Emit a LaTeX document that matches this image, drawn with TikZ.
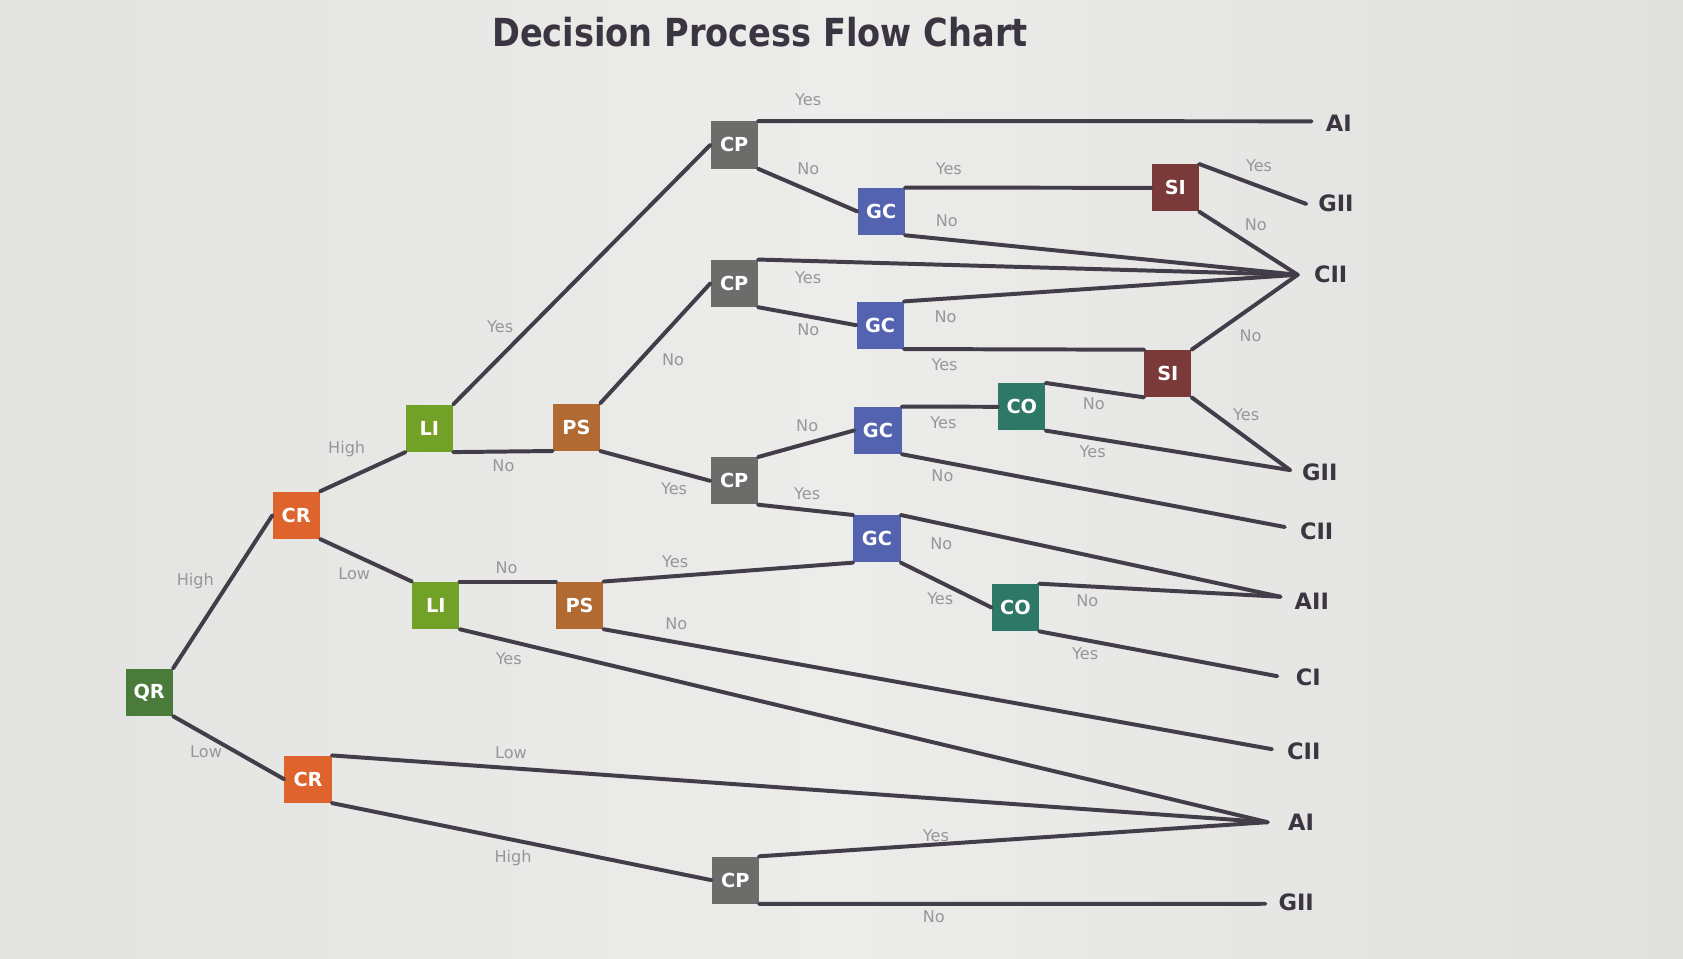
\documentclass[tikz,border=0pt]{standalone}
\usepackage{fontspec}
\usepackage{graphicx}
\setmainfont{DejaVu Sans}
\definecolor{bgA}{HTML}{E3E3E1}
\definecolor{bgB}{HTML}{ECECEA}
\definecolor{bgC}{HTML}{E0E0DE}
\definecolor{ink}{HTML}{3A3540}
\definecolor{edge}{HTML}{433D4A}
\definecolor{lbl}{HTML}{979797}
\definecolor{cQR}{HTML}{4B7B3B}
\definecolor{cCR}{HTML}{DF632C}
\definecolor{cLI}{HTML}{72A128}
\definecolor{cPS}{HTML}{B06A32}
\definecolor{cCP}{HTML}{6C6C6A}
\definecolor{cGC}{HTML}{5463B0}
\definecolor{cSI}{HTML}{7B3A3A}
\definecolor{cCO}{HTML}{2E7868}
\begin{document}
\begin{tikzpicture}[x=1pt,y=-1pt,
  box/.style={minimum width=44pt,minimum height=44pt,inner sep=0pt,text=white,
    font=\bfseries\fontsize{18}{18}\selectfont},
  outc/.style={anchor=west,inner sep=0pt,text=ink,font=\bfseries\fontsize{21}{21}\selectfont},
  elbl/.style={inner sep=0pt,text=lbl,font=\fontsize{15}{15}\selectfont},
  conn/.style={draw=edge,line width=3.7pt,line cap=round}]
\shade[left color=bgA,right color=bgC,middle color=bgB] (0,0) rectangle (1568,893);
\useasboundingbox (0,0) rectangle (1568,893);
\node[text=ink,font=\bfseries\fontsize{36}{36}\selectfont] (title) at (708,30) {\scalebox{0.87}[1]{Decision Process Flow Chart}};
% boxes
\node[box,fill=cQR] (qr) at (139,645) {QR};
\node[box,fill=cCR] (crA) at (276,480) {CR};
\node[box,fill=cCR] (crB) at (287,726) {CR};
\node[box,fill=cLI] (liA) at (400,399) {LI};
\node[box,fill=cLI] (liB) at (406,564) {LI};
\node[box,fill=cPS] (psA) at (537,398) {PS};
\node[box,fill=cPS] (psB) at (540,564) {PS};
\node[box,fill=cCP] (cpA) at (684,135) {CP};
\node[box,fill=cCP] (cpB) at (684,264) {CP};
\node[box,fill=cCP] (cpC) at (684,448) {CP};
\node[box,fill=cCP] (cpD) at (685,820) {CP};
\node[box,fill=cGC] (gcA) at (821,197) {GC};
\node[box,fill=cGC] (gcB) at (820,303) {GC};
\node[box,fill=cGC] (gcC) at (818,401) {GC};
\node[box,fill=cGC] (gcD) at (817,502) {GC};
\node[box,fill=cSI] (siA) at (1095,175) {SI};
\node[box,fill=cSI] (siB) at (1088,348) {SI};
\node[box,fill=cCO] (coA) at (952,379) {CO};
\node[box,fill=cCO] (coB) at (946,566) {CO};
% outcome end points and texts
\coordinate (eAIa) at (1222,113);
\coordinate (eGIIa) at (1217,190);
\coordinate (eCIIa) at (1209,256);
\coordinate (eGIIb) at (1202,438);
\coordinate (eCIIb) at (1197,491);
\coordinate (eAIIa) at (1193,556);
\coordinate (eCIa) at (1190,630);
\coordinate (eCIIc) at (1185,698);
\coordinate (eAIb) at (1181,766);
\coordinate (eGIIc) at (1179,842);
\node[outc] (tAIa) at (1235,115) {AI};
\node[outc] (tGIIa) at (1228,189) {GII};
\node[outc] (tCIIa) at (1224,256) {CII};
\node[outc] (tGIIb) at (1213,440) {GII};
\node[outc] (tCIIb) at (1211,495) {CII};
\node[outc] (tAIIa) at (1206,560) {AII};
\node[outc] (tCIa) at (1207,631) {CI};
\node[outc] (tCIIc) at (1199,700) {CII};
\node[outc] (tAIb) at (1200,766) {AI};
\node[outc] (tGIIc) at (1191,841) {GII};
% connectors
\path[conn] (qr.north east) -- (crA.west);
\path[conn] (qr.south east) -- (crB.west);
\path[conn] (crA.north east) -- (liA.south west);
\path[conn] (crA.south east) -- (liB.north west);
\path[conn] (liA.north east) -- (cpA.west);
\path[conn] (liA.south east) -- (psA.south west);
\path[conn] (psA.north east) -- (cpB.west);
\path[conn] (psA.south east) -- (cpC.west);
\path[conn] (cpA.north east) -- (eAIa);
\path[conn] (cpA.south east) -- (gcA.west);
\path[conn] (gcA.north east) -- (siA.west);
\path[conn] (gcA.south east) -- (eCIIa);
\path[conn] (siA.north east) -- (eGIIa);
\path[conn] (siA.south east) -- (eCIIa);
\path[conn] (cpB.north east) -- (eCIIa);
\path[conn] (cpB.south east) -- (gcB.west);
\path[conn] (gcB.north east) -- (eCIIa);
\path[conn] (gcB.south east) -- (siB.north west);
\path[conn] (siB.north east) -- (eCIIa);
\path[conn] (siB.south east) -- (eGIIb);
\path[conn] (cpC.north east) -- (gcC.west);
\path[conn] (cpC.south east) -- (gcD.north west);
\path[conn] (gcC.north east) -- (coA.west);
\path[conn] (gcC.south east) -- (eCIIb);
\path[conn] (coA.north east) -- (siB.south west);
\path[conn] (coA.south east) -- (eGIIb);
\path[conn] (gcD.north east) -- (eAIIa);
\path[conn] (gcD.south east) -- (coB.west);
\path[conn] (coB.north east) -- (eAIIa);
\path[conn] (coB.south east) -- (eCIa);
\path[conn] (liB.north east) -- (psB.north west);
\path[conn] (liB.south east) -- (eAIb);
\path[conn] (psB.north east) -- (gcD.south west);
\path[conn] (psB.south east) -- (eCIIc);
\path[conn] (crB.north east) -- (eAIb);
\path[conn] (crB.south east) -- (cpD.west);
\path[conn] (cpD.north east) -- (eAIb);
\path[conn] (cpD.south east) -- (eGIIc);
% edge labels
\node[elbl] (l01) at (182,541) {High};
\node[elbl] (l02) at (192,700) {Low};
\node[elbl] (l03) at (323,418) {High};
\node[elbl] (l04) at (330,535) {Low};
\node[elbl] (l05) at (466,304) {Yes};
\node[elbl] (l06) at (469,434) {No};
\node[elbl] (l07) at (627,335) {No};
\node[elbl] (l08) at (628,455) {Yes};
\node[elbl] (l09) at (753,93) {Yes};
\node[elbl] (l10) at (753,157) {No};
\node[elbl] (l11) at (884,157) {Yes};
\node[elbl] (l12) at (882,206) {No};
\node[elbl] (l13) at (1173,154) {Yes};
\node[elbl] (l14) at (1170,209) {No};
\node[elbl] (l15) at (753,259) {Yes};
\node[elbl] (l16) at (753,307) {No};
\node[elbl] (l17) at (881,295) {No};
\node[elbl] (l18) at (880,340) {Yes};
\node[elbl] (l19) at (1165,313) {No};
\node[elbl] (l20) at (1161,386) {Yes};
\node[elbl] (l21) at (752,397) {No};
\node[elbl] (l22) at (752,460) {Yes};
\node[elbl] (l23) at (879,394) {Yes};
\node[elbl] (l24) at (878,443) {No};
\node[elbl] (l25) at (1019,376) {No};
\node[elbl] (l26) at (1018,421) {Yes};
\node[elbl] (l27) at (877,507) {No};
\node[elbl] (l28) at (876,558) {Yes};
\node[elbl] (l29) at (1013,560) {No};
\node[elbl] (l30) at (1011,609) {Yes};
\node[elbl] (l31) at (472,529) {No};
\node[elbl] (l32) at (474,614) {Yes};
\node[elbl] (l33) at (629,523) {Yes};
\node[elbl] (l34) at (630,581) {No};
\node[elbl] (l35) at (476,701) {Low};
\node[elbl] (l36) at (478,799) {High};
\node[elbl] (l37) at (872,779) {Yes};
\node[elbl] (l38) at (870,854) {No};
\end{tikzpicture}
\end{document}
